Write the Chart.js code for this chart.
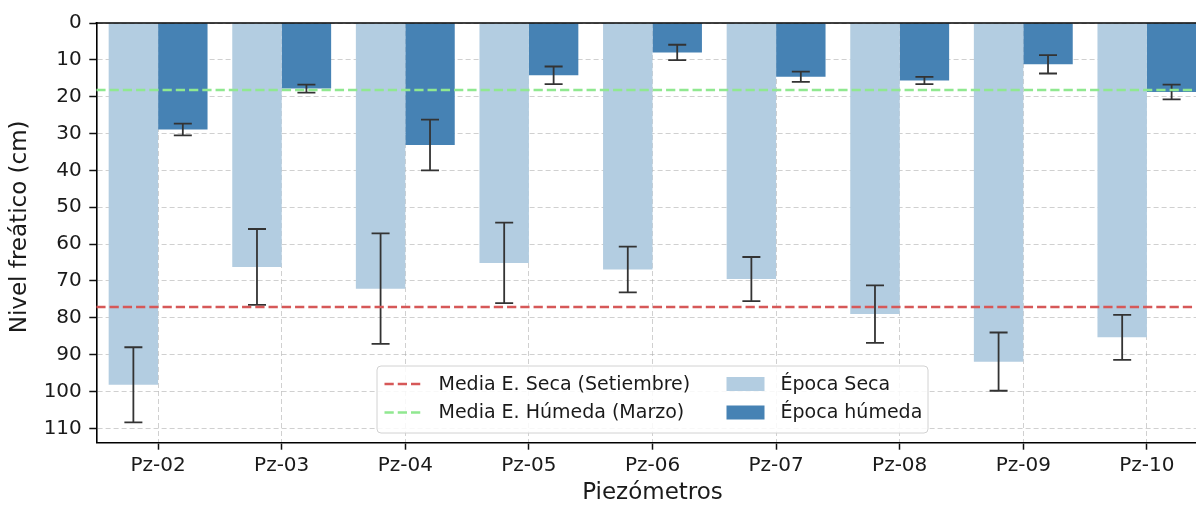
<!DOCTYPE html>
<html>
<head>
<meta charset="utf-8">
<script src="https://cdn.jsdelivr.net/npm/chart.js@4/dist/chart.umd.min.js"></script>
<style>
  html, body { margin: 0; padding: 0; background: #fff; }
  #wrap { width: 1196px; height: 505px; overflow: hidden; position: relative; }
  canvas { display: block; }
</style>
</head>
<body>
<div id="wrap"><canvas id="c" width="1212" height="505"></canvas></div>
<script>
// Piezómetros y nivel freático (cm, profundidad desde la superficie)
const categories = ['Pz-02', 'Pz-03', 'Pz-04', 'Pz-05', 'Pz-06', 'Pz-07', 'Pz-08', 'Pz-09', 'Pz-10'];
const seca       = [98.2, 66.2, 72.1, 65.1, 66.9, 69.5, 79.0, 91.9, 85.3];
const secaErr    = [10.2, 10.3, 15.0, 10.9, 6.2, 6.0, 7.8, 7.9, 6.1];
const humeda     = [28.9, 17.8, 33.1, 14.2, 8.0, 14.6, 15.6, 11.2, 18.7];
const humedaErr  = [1.6, 1.1, 6.9, 2.4, 2.1, 1.4, 1.0, 2.5, 2.0];
const mediaSeca   = 77.1;
const mediaHumeda = 18.2;
const yTicks = [0, 10, 20, 30, 40, 50, 60, 70, 80, 90, 100, 110];
const yTitle = 'Nivel freático (cm)';
const xTitle = 'Piezómetros';

const FONT = "'DejaVu Sans', 'Liberation Sans', sans-serif";
const TEXT = '#1a1a1a';
const COL_SECA = 'rgb(179,205,225)';
const COL_HUM = 'rgb(70,130,180)';
const COL_RED = 'rgb(214,88,88)';
const COL_GREEN = 'rgb(144,232,144)';
const GRID = 'rgba(170,170,170,0.55)';

Chart.defaults.font.family = FONT;
Chart.defaults.color = TEXT;

const meanLines = [
  { value: mediaSeca, color: COL_RED, label: 'Media E. Seca (Setiembre)' },
  { value: mediaHumeda, color: COL_GREEN, label: 'Media E. Húmeda (Marzo)' }
];
const errors = [secaErr, humedaErr];

// Error bars, mean lines, top spine, y-axis title and legend
const overlay = {
  id: 'overlay',
  afterDraw(chart) {
    const { ctx, chartArea: a, scales } = chart;
    const y = scales.y;
    ctx.save();
    ctx.beginPath();
    ctx.rect(a.left, a.top - 2, a.right - a.left + 2, a.bottom - a.top + 4);
    ctx.clip();

    // error bars
    ctx.strokeStyle = '#333';
    ctx.lineWidth = 1.8;
    ctx.setLineDash([]);
    chart.data.datasets.forEach((ds, di) => {
      const meta = chart.getDatasetMeta(di);
      meta.data.forEach((bar, i) => {
        const v = ds.data[i], e = errors[di][i];
        const x = bar.x;
        const y1 = y.getPixelForValue(v - e), y2 = y.getPixelForValue(v + e);
        ctx.beginPath();
        ctx.moveTo(x, y1); ctx.lineTo(x, y2);
        ctx.moveTo(x - 9, y1); ctx.lineTo(x + 9, y1);
        ctx.moveTo(x - 9, y2); ctx.lineTo(x + 9, y2);
        ctx.stroke();
      });
    });

    // mean lines
    meanLines.forEach(m => {
      const py = y.getPixelForValue(m.value);
      ctx.strokeStyle = m.color;
      ctx.lineWidth = 2.5;
      ctx.setLineDash([9.25, 4]);
      ctx.beginPath();
      ctx.moveTo(a.left, py); ctx.lineTo(a.right, py);
      ctx.stroke();
    });
    ctx.restore();

    // top spine
    ctx.save();
    ctx.strokeStyle = '#000';
    ctx.lineWidth = 1.6;
    ctx.beginPath();
    ctx.moveTo(a.left - 0.8, a.top); ctx.lineTo(a.right, a.top);
    ctx.stroke();
    ctx.restore();

    // y-axis title
    ctx.save();
    ctx.font = '23px ' + FONT;
    ctx.fillStyle = TEXT;
    ctx.textAlign = 'center';
    ctx.textBaseline = 'middle';
    ctx.translate(20, (a.top + a.bottom) / 2 - 6);
    ctx.rotate(-Math.PI / 2);
    ctx.fillText(yTitle, 0, 0);
    ctx.restore();

    // legend (lower center)
    const w = 551, h = 67;
    const bx = (a.left + a.right) / 2 - w / 2;
    const by = a.bottom - 9.7 - h;
    ctx.save();
    ctx.fillStyle = 'rgba(255,255,255,0.85)';
    ctx.strokeStyle = 'rgb(210,210,210)';
    ctx.lineWidth = 1;
    ctx.beginPath();
    ctx.roundRect(bx, by, w, h, 4);
    ctx.fill();
    ctx.stroke();

    ctx.font = '19px ' + FONT;
    ctx.fillStyle = TEXT;
    ctx.textBaseline = 'middle';
    ctx.textAlign = 'left';
    const rows = [by + 18, by + 46.5];
    meanLines.forEach((m, i) => {
      ctx.strokeStyle = m.color;
      ctx.lineWidth = 2.5;
      ctx.setLineDash([9.25, 4]);
      ctx.beginPath();
      ctx.moveTo(bx + 7.5, rows[i]); ctx.lineTo(bx + 45.5, rows[i]);
      ctx.stroke();
      ctx.fillText(m.label, bx + 61.5, rows[i] + 1);
    });
    ctx.setLineDash([]);
    chart.data.datasets.forEach((ds, i) => {
      ctx.fillStyle = ds.backgroundColor;
      ctx.fillRect(bx + 349.5, rows[i] - 7, 38, 14);
      ctx.fillStyle = TEXT;
      ctx.fillText(ds.label, bx + 403.5, rows[i] + 1);
    });
    ctx.restore();
  }
};

new Chart(document.getElementById('c'), {
  type: 'bar',
  data: {
    labels: categories,
    datasets: [
      { label: 'Época Seca', data: seca, backgroundColor: COL_SECA, borderWidth: 0 },
      { label: 'Época húmeda', data: humeda, backgroundColor: COL_HUM, borderWidth: 0 }
    ]
  },
  options: {
    responsive: false,
    animation: false,
    devicePixelRatio: 1,
    layout: { padding: { top: 23, right: 3.3, left: 0, bottom: 0 } },
    plugins: { legend: { display: false }, tooltip: { enabled: false } },
    datasets: { bar: { barPercentage: 1, categoryPercentage: 0.8 } },
    scales: {
      x: {
        type: 'category',
        offset: true,
        z: 1,
        afterFit(s) { s.height = 62.3; },
        grid: {
          offset: false,
          color: GRID,
          lineWidth: 1,
          drawTicks: true,
          tickLength: 7,
          tickColor: '#111',
          tickWidth: 1.5
        },
        border: { display: true, color: '#000', width: 1.6, dash: [5, 3] },
        ticks: { font: { size: 20 }, color: TEXT, padding: 4, maxRotation: 0, autoSkip: false },
        title: {
          display: true,
          text: xTitle,
          font: { size: 23, lineHeight: 1 },
          color: TEXT,
          padding: { top: 0, bottom: 0.5 }
        }
      },
      y: {
        type: 'linear',
        reverse: true,
        min: 0,
        max: 113.9,
        z: 1,
        afterFit(s) { s.width = 96.3; },
        afterBuildTicks(s) { s.ticks = yTicks.map(v => ({ value: v })); },
        grid: {
          color: GRID,
          lineWidth: 1,
          drawTicks: true,
          tickLength: 7,
          tickColor: '#111',
          tickWidth: 1.5
        },
        border: { display: true, color: '#000', width: 1.6, dash: [5, 3] },
        ticks: { font: { size: 20 }, color: TEXT, padding: 7.5, includeBounds: false },
        title: { display: false }
      }
    }
  },
  plugins: [overlay]
});
</script>
</body>
</html>
